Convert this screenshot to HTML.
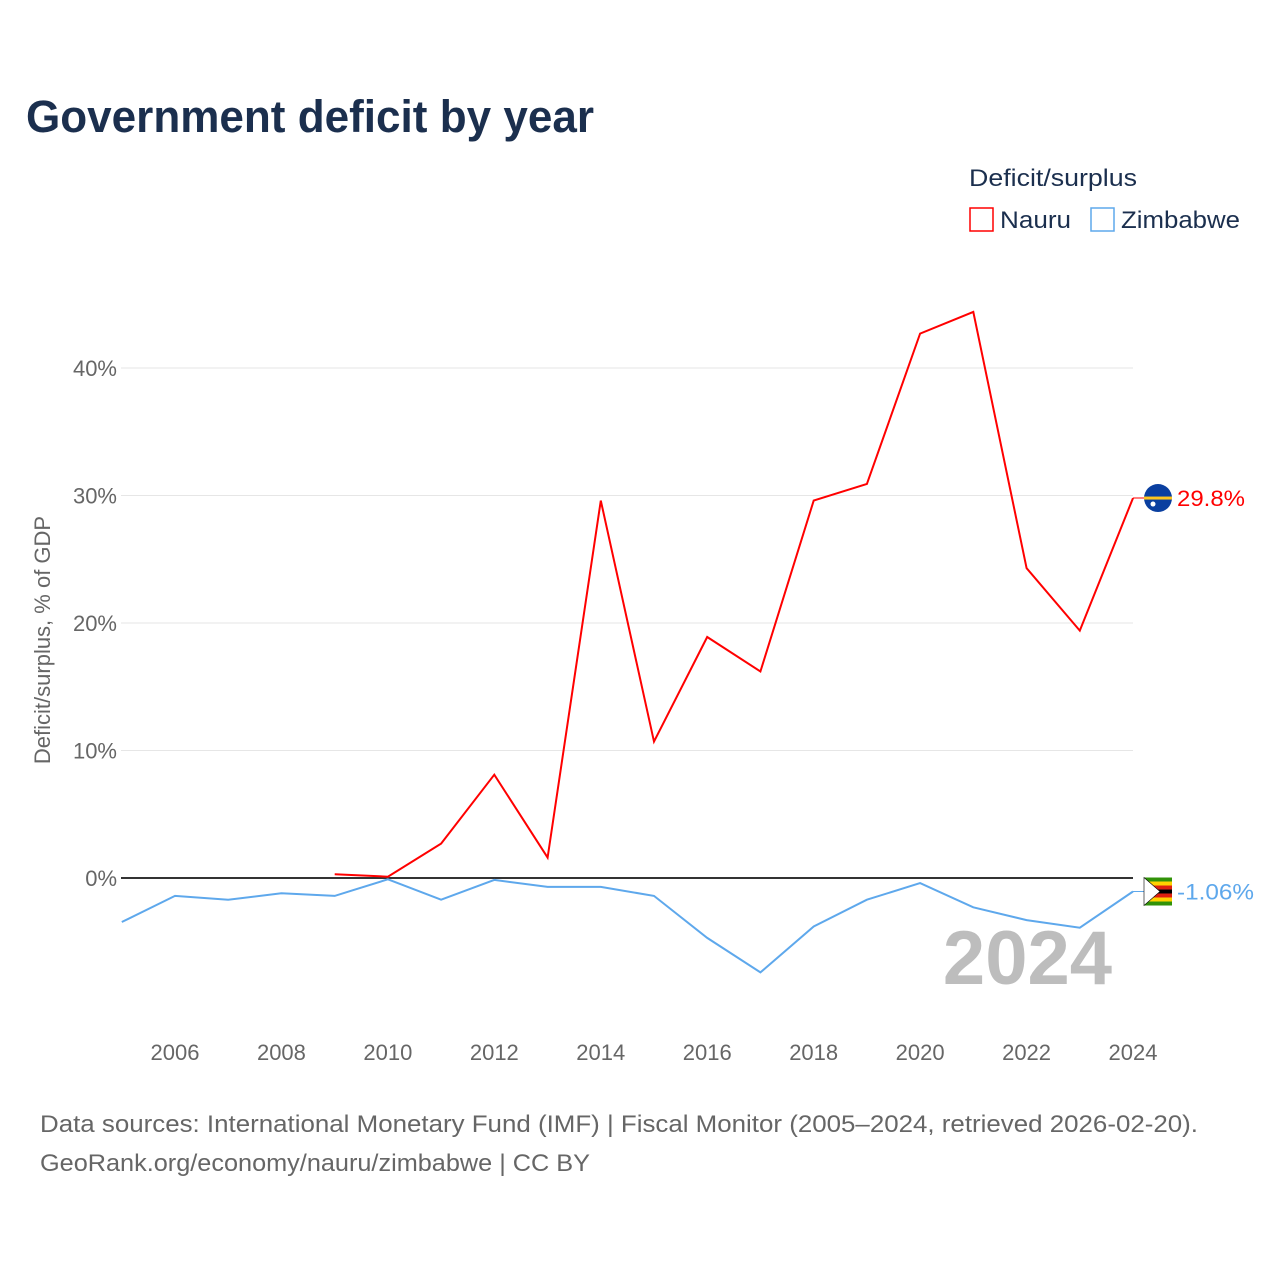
<!DOCTYPE html>
<html><head><meta charset="utf-8">
<style>
html,body{margin:0;padding:0;background:#fff;width:1280px;height:1280px;overflow:hidden;font-family:"Liberation Sans",sans-serif}
</style></head>
<body>
<svg id="chart" width="1280" height="1280" viewBox="0 0 1280 1280" xmlns="http://www.w3.org/2000/svg" font-family="Liberation Sans, sans-serif">
<text x="26" y="132" font-size="45" font-weight="bold" fill="#1b2f4e" textLength="568" lengthAdjust="spacingAndGlyphs">Government deficit by year</text>
<text x="969" y="186" font-size="24" fill="#1b2f4e" textLength="168" lengthAdjust="spacingAndGlyphs">Deficit/surplus</text>
<g>
<rect x="970" y="208" width="23" height="23" fill="none" stroke="#f00" stroke-width="1.5"/>
<text x="1000" y="228" font-size="24" fill="#1b2f4e" textLength="71" lengthAdjust="spacingAndGlyphs">Nauru</text></g>
<g>
<rect x="1091" y="208" width="23" height="23" fill="none" stroke="#5ea8ec" stroke-width="1.5"/>
<text x="1121" y="228" font-size="24" fill="#1b2f4e" textLength="119" lengthAdjust="spacingAndGlyphs">Zimbabwe</text></g>
<text transform="translate(50,640) rotate(-90)" text-anchor="middle" font-size="22" fill="#666">Deficit/surplus, % of GDP</text>
<g id="grid"></g><g id="series"></g>
<text x="1112" y="984" text-anchor="end" font-size="76" font-weight="bold" fill="#bdbdbd">2024</text>
<text x="40" y="1132" font-size="24" fill="#666" textLength="1158" lengthAdjust="spacingAndGlyphs">Data sources: International Monetary Fund (IMF) | Fiscal Monitor (2005–2024, retrieved 2026-02-20).</text>
<text x="40" y="1171" font-size="24" fill="#666" textLength="550" lengthAdjust="spacingAndGlyphs">GeoRank.org/economy/nauru/zimbabwe | CC BY</text>
</svg>
<script>
const years=[2005,2006,2007,2008,2009,2010,2011,2012,2013,2014,2015,2016,2017,2018,2019,2020,2021,2022,2023,2024];
const nauru=[null,null,null,null,0.3,0.1,2.7,8.1,1.6,29.6,10.7,18.9,16.2,29.6,30.9,42.7,44.4,24.3,19.4,29.8];
const zimbabwe=[-3.45,-1.4,-1.7,-1.2,-1.4,-0.1,-1.7,-0.15,-0.7,-0.7,-1.4,-4.7,-7.4,-3.8,-1.7,-0.4,-2.3,-3.3,-3.9,-1.06];
const yTicks=[0,10,20,30,40];
const xTicks=[2006,2008,2010,2012,2014,2016,2018,2020,2022,2024];
const X=y=>175+(y-2006)*(1133-175)/18;
const Y=v=>878-v*12.75;
const NS="http://www.w3.org/2000/svg";
function mk(t,a,p){const e=document.createElementNS(NS,t);for(const k in a)e.setAttribute(k,a[k]);p.appendChild(e);return e;}
const grid=document.getElementById('grid'),ser=document.getElementById('series');
yTicks.forEach(v=>{
 if(v!==0){const l=mk('line',{x1:121,x2:1133,y1:Y(v),y2:Y(v),stroke:'#e6e6e6','stroke-width':1},grid);
 
 }
 const t=mk('text',{x:117,y:Y(v)+8,'text-anchor':'end','font-size':22,fill:'#666'},grid);t.textContent=v+'%';
 
 
});
xTicks.forEach(y=>{const t=mk('text',{x:X(y),y:1060,'text-anchor':'middle','font-size':22,fill:'#666'},grid);t.textContent=y;
 
 });
const zl=mk('line',{x1:121,x2:1133,y1:Y(0),y2:Y(0),stroke:'#333','stroke-width':2},grid);


function path(vals){let d='';vals.forEach((v,i)=>{if(v===null)return;d+=(d?'L':'M')+X(years[i]).toFixed(1)+','+Y(v).toFixed(1);});return d;}
const pz=mk('path',{d:path(zimbabwe),fill:'none',stroke:'#5ea8ec','stroke-width':2},ser);


const pn=mk('path',{d:path(nauru),fill:'none',stroke:'#f00','stroke-width':2},ser);


const ln=nauru[nauru.length-1],lz=zimbabwe[zimbabwe.length-1];
const fx=X(2024)+25;
mk('line',{x1:X(2024),x2:fx,y1:Y(ln),y2:Y(ln),stroke:'#f00','stroke-width':1},ser);
const fn=mk('g',{},ser);


mk('circle',{cx:fx,cy:Y(ln),r:14,fill:'#0a3fa0'},fn);
mk('rect',{x:fx-14,y:Y(ln)-1.5,width:28,height:3,fill:'#ffc61e'},fn);
mk('circle',{cx:fx-5,cy:Y(ln)+6,r:2.5,fill:'#fff'},fn);
const tn=mk('text',{x:fx+19,y:Y(ln)+8,'font-size':22,fill:'#f00',textLength:68,lengthAdjust:'spacingAndGlyphs'},ser);tn.textContent=ln.toFixed(1)+'%';


mk('line',{x1:X(2024),x2:fx,y1:Y(lz),y2:Y(lz),stroke:'#5ea8ec','stroke-width':1},ser);
const fz=mk('g',{},ser);


const cy=Y(lz);
[['#319208',-14],['#ffd200',-10],['#de2010',-6],['#000',-2],['#de2010',2],['#ffd200',6],['#319208',10]].forEach(s=>mk('rect',{x:fx-14,y:cy+s[1],width:28,height:4,fill:s[0]},fz));
mk('path',{d:`M${fx-14},${cy-14}L${fx+2},${cy}L${fx-14},${cy+14}Z`,fill:'#fff',stroke:'#000','stroke-width':0.6},fz);
const tz=mk('text',{x:fx+19,y:cy+8,'font-size':22,fill:'#5ea8ec',textLength:77,lengthAdjust:'spacingAndGlyphs'},ser);tz.textContent=lz.toFixed(2)+'%';


</script>
</body></html>
